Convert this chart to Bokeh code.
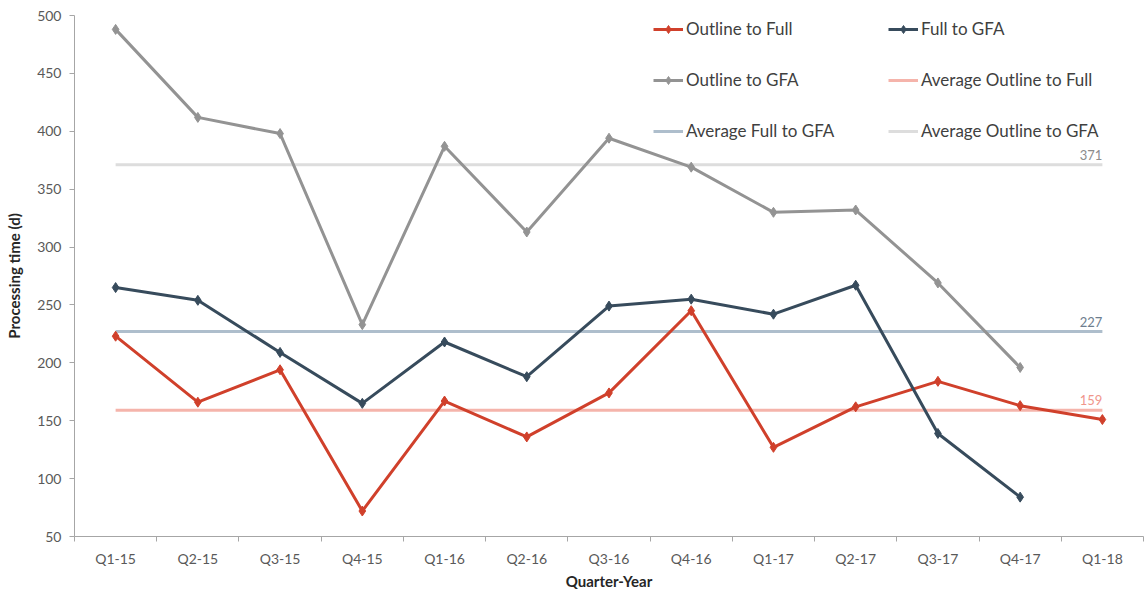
from bokeh.plotting import figure
from bokeh.models import FixedTicker, Legend, LegendItem, Range1d
from bokeh.core.properties import value
from bokeh.embed import file_html
from bokeh.resources import INLINE

# Quarterly processing times in days
quarters = ["Q1-15", "Q2-15", "Q3-15", "Q4-15", "Q1-16", "Q2-16", "Q3-16",
            "Q4-16", "Q1-17", "Q2-17", "Q3-17", "Q4-17", "Q1-18"]
outline_to_full = [223, 166, 194, 72, 167, 136, 174, 245, 127, 162, 184, 163, 151]
full_to_gfa = [265, 254, 209, 165, 218, 188, 249, 255, 242, 267, 139, 84]
outline_to_gfa = [488, 412, 398, 233, 387, 313, 394, 369, 330, 332, 269, 196]

avg_names = ["Average Outline to Full", "Average Full to GFA", "Average Outline to GFA"]
avg_values = [159, 227, 371]
y_ticks = [50, 100, 150, 200, 250, 300, 350, 400, 450, 500]

RED = "#d0402b"
NAVY = "#374b5c"
GREY = "#939393"
AVG_COLORS = ["#f5b4ab", "#aebecc", "#dddddd"]
AVG_LABEL_COLORS = ["#f0968b", "#6e7e8e", "#8c8c8c"]
AXIS_GREY = "#a6a6a6"
FONT = "Lato"

x_idx = list(range(len(quarters)))

p = figure(width=1144, height=592, output_backend="svg", toolbar_location=None,
           x_range=Range1d(-0.5, len(quarters) - 0.5), y_range=Range1d(50, 500),
           min_border_left=74, min_border_right=1, min_border_top=15,
           min_border_bottom=55)
p.outline_line_color = None
p.xgrid.visible = False
p.ygrid.visible = False
p.background_fill_color = "white"
p.border_fill_color = "white"

# y axis
yax = p.yaxis[0]
yax.ticker = FixedTicker(ticks=y_ticks)
yax.axis_line_color = AXIS_GREY
yax.major_tick_line_color = AXIS_GREY
yax.major_tick_out = 5
yax.major_tick_in = 0
yax.minor_tick_line_color = None
yax.major_label_standoff = 8
yax.major_label_text_font = FONT
yax.major_label_text_font_size = "14px"
yax.major_label_text_color = "#595959"
yax.axis_label = "Processing time (d)"
yax.axis_label_text_font = FONT
yax.axis_label_text_font_size = "15px"
yax.axis_label_text_font_style = "bold"
yax.axis_label_text_color = "#262626"
yax.axis_label_standoff = 11

# x axis: labels at band centres, tick marks on band boundaries
xax = p.xaxis[0]
xax.ticker = FixedTicker(ticks=x_idx,
                         minor_ticks=[i - 0.5 for i in range(len(quarters) + 1)])
xax.major_label_overrides = {i: q for i, q in enumerate(quarters)}
xax.axis_line_color = AXIS_GREY
xax.major_tick_line_color = None
xax.major_tick_out = 5
xax.major_tick_in = 0
xax.minor_tick_line_color = AXIS_GREY
xax.minor_tick_out = 5
xax.minor_tick_in = 0
xax.major_label_standoff = 8
xax.major_label_text_font = FONT
xax.major_label_text_font_size = "14px"
xax.major_label_text_color = "#595959"
xax.axis_label = "Quarter-Year"
xax.axis_label_text_font = FONT
xax.axis_label_text_font_size = "15px"
xax.axis_label_text_font_style = "bold"
xax.axis_label_text_color = "#262626"
xax.axis_label_standoff = 2

# average lines, drawn underneath the series
avg_renderers = []
for v, c in zip(avg_values, AVG_COLORS):
    avg_renderers.append(
        p.line([x_idx[0], x_idx[-1]], [v, v], line_color=c, line_width=3))

p.text(x=[x_idx[-1]] * len(avg_values), y=avg_values,
       text=[str(v) for v in avg_values], text_align="right",
       text_baseline="bottom", y_offset=-5, text_font=value(FONT),
       text_font_size="13px", text_color=AVG_LABEL_COLORS)

series = [("Outline to Full", outline_to_full, RED),
          ("Full to GFA", full_to_gfa, NAVY),
          ("Outline to GFA", outline_to_gfa, GREY)]
series_renderers = {}
for name, vals, c in series:
    xs = x_idx[:len(vals)]
    ln = p.line(xs, vals, line_color=c, line_width=3)
    pts = p.scatter(xs, vals, marker="diamond", size=10, color=c)
    series_renderers[name] = [ln, pts]

items = {name: LegendItem(label=name, renderers=r) for name, r in series_renderers.items()}
for name, r in zip(avg_names, avg_renderers):
    items[name] = LegendItem(label=name, renderers=[r])

columns = [["Outline to Full", "Outline to GFA", "Average Full to GFA"],
           ["Full to GFA", "Average Outline to Full", "Average Outline to GFA"]]
for col, xloc in zip(columns, [579, 814]):
    leg = Legend(items=[items[n] for n in col], location=(xloc, 395),
                 orientation="vertical")
    leg.border_line_color = None
    leg.background_fill_alpha = 0
    leg.padding = 0
    leg.margin = 0
    leg.spacing = 30
    leg.glyph_width = 30
    leg.glyph_height = 20
    leg.label_height = 20
    leg.label_standoff = 3
    leg.label_text_font = FONT
    leg.label_text_font_size = "17px"
    leg.label_text_color = "#404040"
    p.add_layout(leg)

open("out.html", "w").write(file_html(p, INLINE))
